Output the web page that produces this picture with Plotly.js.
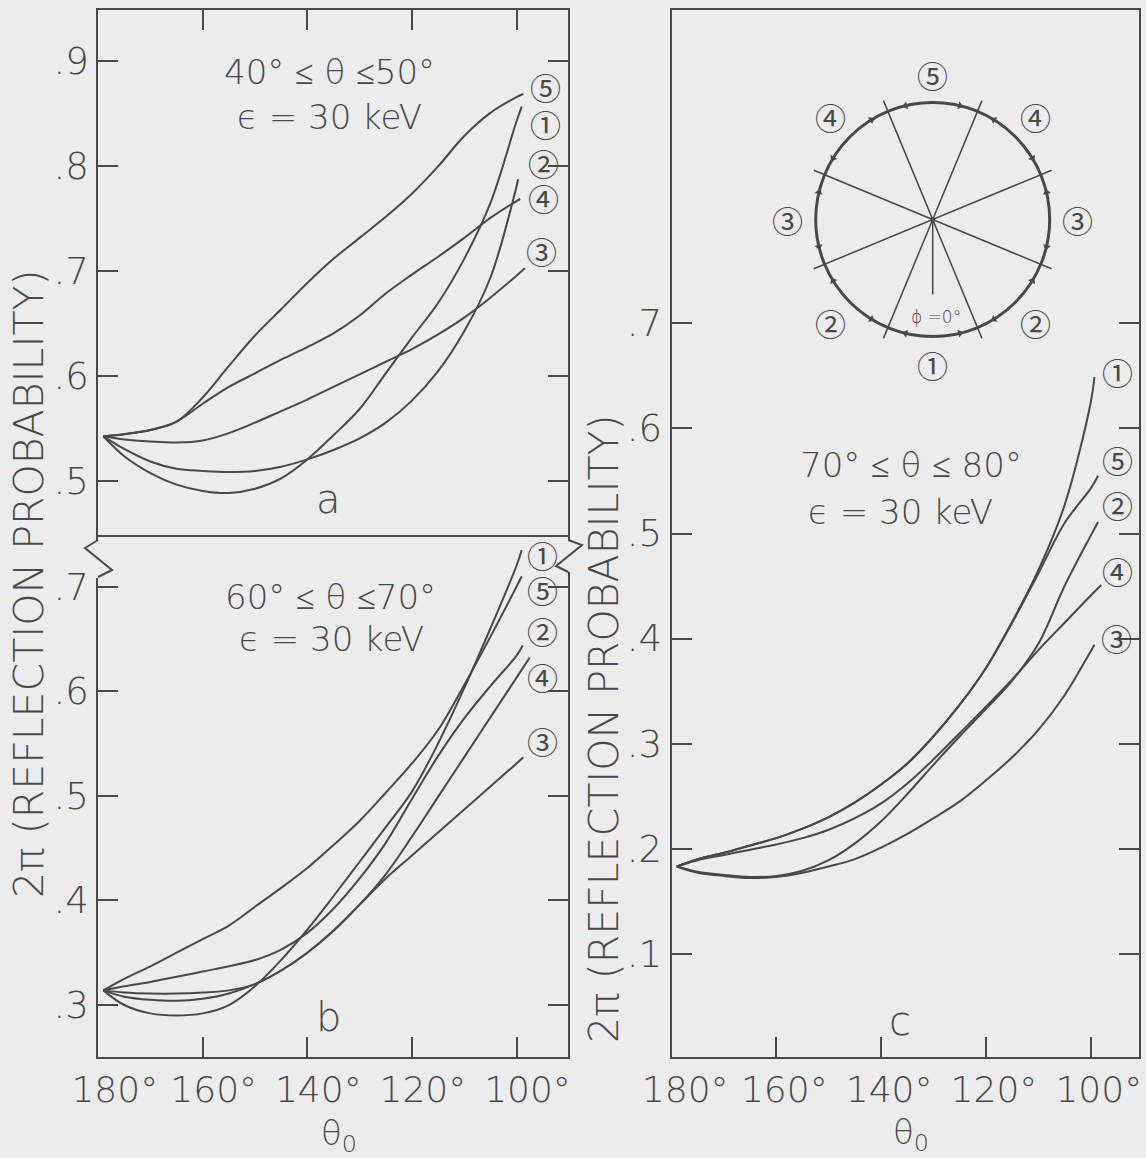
<!DOCTYPE html>
<html><head><meta charset="utf-8">
<script src="https://cdn.plot.ly/plotly-3.0.1.min.js"></script>
<style>html,body{margin:0;padding:0;background:#ececec;}#chart{width:1146px;height:1158px;}</style>
</head><body><div id="chart"></div>
<script>
// ---------------- DATA ----------------
const thetaGrid = [179,175,170,165,160,155,150,145,140,135,130,125,120,115,110,105,100];
const curveNames = ['①','②','③','④','⑤'];

// Panel a : 40° ≤ θ ≤ 50°
const a1 = [.543,.524,.508,.497,.491,.489,.493,.503,.521,.544,.569,.603,.637,.670,.712,.765,.843];
const a2 = [.543,.531,.519,.512,.510,.509,.510,.514,.521,.530,.541,.556,.577,.605,.643,.694,.781];
const a3 = [.543,.540,.538,.537,.539,.546,.556,.567,.578,.590,.602,.614,.626,.640,.656,.675,.696];
const a4 = [.543,.545,.549,.557,.574,.590,.603,.616,.628,.641,.658,.679,.697,.714,.732,.751,.767];
const a5 = [.543,.545,.549,.557,.580,.610,.639,.664,.689,.712,.732,.752,.774,.800,.829,.851,.866];
const aEndTheta = [99.0, 99.7, 98.4, 99.3, 98.7];
const aEndProb  = [.857, .788, .703, .769, .869];

// Panel b : 60° ≤ θ ≤ 70°
const b1 = [.314,.300,.292,.290,.292,.300,.318,.343,.372,.404,.437,.470,.504,.550,.603,.660,.720];
const b2 = [.314,.318,.322,.327,.332,.337,.343,.353,.369,.392,.421,.455,.497,.538,.574,.605,.634];
const b3 = [.314,.308,.305,.304,.306,.311,.320,.333,.350,.371,.396,.421,.443,.465,.487,.509,.531];
const b4 = [.314,.312,.311,.311,.312,.314,.320,.333,.350,.371,.396,.425,.461,.499,.537,.575,.613];
const b5 = [.314,.325,.337,.350,.363,.376,.394,.412,.431,.453,.476,.503,.531,.563,.606,.652,.700];
const bEndTheta = [99.0, 98.8, 98.7, 97.5, 99.0];
const bEndProb  = [.735, .644, .537, .632, .710];

// Panel c : 70° ≤ θ ≤ 80°
const c1 = [.183,.190,.196,.203,.210,.219,.230,.244,.261,.281,.307,.337,.372,.416,.465,.527,.625];
const c2 = [.183,.178,.175,.173,.174,.179,.189,.205,.226,.252,.280,.307,.333,.360,.395,.450,.498];
const c3 = [.183,.177,.174,.172,.173,.177,.183,.190,.201,.214,.229,.245,.265,.287,.313,.346,.388];
const c4 = [.183,.189,.194,.199,.204,.210,.218,.229,.243,.262,.285,.310,.335,.361,.389,.415,.441];
const c5 = [.183,.190,.196,.203,.210,.219,.230,.244,.261,.281,.307,.337,.372,.415,.462,.510,.543];
const cEndTheta = [99.3, 98.6, 99.3, 98.0, 98.6];
const cEndProb  = [.649, .511, .394, .451, .555];

// tick labels
const xTickVals = [180,160,140,120,100];
const xTickText = ['\u00a0180°','160°','140°','120°','100°'];
const aTickVals = [.5,.6,.7,.8,.9];
const bTickVals = [.3,.4,.5,.6,.7];
const cTickVals = [.1,.2,.3,.4,.5,.6,.7];

// inset diagram (azimuthal sectors, φ measured from the bottom)
const sectorBoundaries = [22.5, 67.5, 112.5, 157.5, 202.5, 247.5, 292.5, 337.5];
const sectorCenters = [0, 45, 90, 135, 180, 225, 270, 315];
const sectorLabels = ['①','②','③','④','⑤','④','③','②'];

// ---------------- STYLE ----------------
const W = 1146, H = 1158;
const BG = '#ececec', INK = '#484848';
const px = x => x / W, py = y => 1 - y / H;
const tickFont = {family: 'DejaVu Sans', size: 37, color: INK, weight: 200};
const xTickFont = {family: 'DejaVu Sans', size: 36, color: INK, weight: 200};
const txtFont  = {family: 'DejaVu Sans', size: 34, color: INK, weight: 200};
const circFont = {family: 'Noto Sans CJK JP', size: 31, color: INK, weight: 400};

const panels = [
  {ys: [a1,a2,a3,a4,a5], endT: aEndTheta, endP: aEndProb, xa: 'x', ya: 'y'},
  {ys: [b1,b2,b3,b4,b5], endT: bEndTheta, endP: bEndProb, xa: 'x2', ya: 'y2'},
  {ys: [c1,c2,c3,c4,c5], endT: cEndTheta, endP: cEndProb, xa: 'x3', ya: 'y3'}
];
const traces = [];
panels.forEach(p => {
  p.ys.forEach((vals, i) => {
    traces.push({
      x: thetaGrid.concat([p.endT[i]]), y: vals.concat([p.endP[i]]),
      xaxis: p.xa, yaxis: p.ya, mode: 'lines', name: curveNames[i],
      line: {color: INK, width: 2, shape: 'spline', smoothing: 1},
      hoverinfo: 'skip', showlegend: false
    });
  });
});

// inset geometry
const pos = (phi, r) => [r * Math.sin(phi * Math.PI / 180), -r * Math.cos(phi * Math.PI / 180)];
const shapes = [];
shapes.push({type: 'circle', xref: 'x4', yref: 'y4', x0: -1, x1: 1, y0: -1, y1: 1,
  line: {color: INK, width: 3}});
sectorBoundaries.slice(0, 4).forEach(b => {
  const p0 = pos(b, 1.1), p1 = pos(b + 180, 1.1);
  shapes.push({type: 'line', xref: 'x4', yref: 'y4', x0: p0[0], y0: p0[1], x1: p1[0], y1: p1[1],
    line: {color: INK, width: 1.5}});
});
const z = pos(0, 0.64);
shapes.push({type: 'line', xref: 'x4', yref: 'y4', x0: 0, y0: 0, x1: z[0], y1: z[1],
  line: {color: INK, width: 1.5}});
// arrowheads
const arrX = [], arrY = [], arrA = [];
sectorBoundaries.forEach(b => {
  [[b - 9, 1], [b + 9, -1]].forEach(([phi, s]) => {
    const q = pos(phi, 1); arrX.push(q[0]); arrY.push(q[1]);
    const r = phi * Math.PI / 180;
    arrA.push(Math.atan2(s * Math.cos(r), s * Math.sin(r)) * 180 / Math.PI);
  });
});
traces.push({x: arrX, y: arrY, xaxis: 'x4', yaxis: 'y4', mode: 'markers', hoverinfo: 'skip',
  marker: {symbol: 'triangle-up', size: 7, color: INK, angle: arrA}, showlegend: false});
traces.push({x: [0], y: [0], xaxis: 'x4', yaxis: 'y4', mode: 'markers', hoverinfo: 'skip',
  marker: {size: 5, color: INK}, showlegend: false});

// axis breaks (between panels a and b)
const pathPx = pts => pts.map((p, i) => (i ? 'L' : 'M') + px(p[0]).toFixed(5) + ',' + py(p[1]).toFixed(5)).join(' ');
shapes.push({type: 'rect', xref: 'paper', yref: 'paper', x0: px(93), x1: px(103), y0: py(578), y1: py(541),
  fillcolor: BG, line: {width: 0}, layer: 'above'});
shapes.push({type: 'rect', xref: 'paper', yref: 'paper', x0: px(563), x1: px(574), y0: py(572), y1: py(541),
  fillcolor: BG, line: {width: 0}, layer: 'above'});
shapes.push({type: 'path', xref: 'paper', yref: 'paper', layer: 'above',
  path: pathPx([[98.1,540],[85,548],[112,570],[98.1,577]]), line: {color: INK, width: 2}});
shapes.push({type: 'path', xref: 'paper', yref: 'paper', layer: 'above',
  path: pathPx([[568.3,540],[582,545],[556,566],[568.3,572]]), line: {color: INK, width: 2}});

// annotations
const ann = [];
const addText = (text, x, y, font, extra) => ann.push(Object.assign({text, x: px(x), y: py(y),
  xref: 'paper', yref: 'paper', showarrow: false, xanchor: 'center', yanchor: 'middle', font}, extra || {}));
addText('40° ≤ θ ≤50°', 329, 72, txtFont);
addText('ϵ = 30 keV', 329, 117, txtFont);
addText('60° ≤ θ ≤70°', 330, 597, txtFont);
addText('ϵ = 30 keV', 331, 639, txtFont);
addText('70° ≤ θ ≤ 80°', 911, 465, txtFont);
addText('ϵ = 30 keV', 900, 512, txtFont);
const letFont = {family: 'DejaVu Sans', size: 40, color: INK, weight: 200};
addText('a', 328, 499, letFont);
addText('b', 328, 1017, letFont);
addText('c', 900, 1021, letFont);
// curve labels
const aLab = [[545.7,124],[543,162],[541,251],[543,198],[545.7,86]];
const bLab = [[542,554],[542,630],[542,740],[542,676],[542,589]];
const cLab = [[1117,371],[1117,505],[1116,637],[1117,570],[1117,459]];
[aLab, bLab, cLab].forEach(L => L.forEach((p, i) => addText(curveNames[i], p[0], p[1], circFont)));
// inset labels
sectorCenters.forEach((phi, i) => {
  const q = pos(phi, 1.24);
  ann.push({text: sectorLabels[i], x: q[0], y: q[1], xref: 'x4', yref: 'y4', showarrow: false,
    xanchor: 'center', yanchor: 'middle', font: circFont});
});
ann.push({text: 'ϕ =0°', x: 0.03, y: -0.83, xref: 'x4', yref: 'y4', showarrow: false,
  xanchor: 'center', yanchor: 'middle', font: {family: 'DejaVu Sans', size: 17, color: INK, weight: 200}});
// axis titles
const yTitleFont = {family: 'DejaVu Sans', size: 41, color: INK, weight: 200};
addText('2π (REFLECTION PROBABILITY)', 29, 584, yTitleFont, {textangle: -90});
addText('2π (REFLECTION PROBABILITY)', 604, 729, yTitleFont, {textangle: -90});
const xTitleFont = {family: 'DejaVu Sans', size: 34, color: INK, weight: 200};
addText('θ<sub>0</sub>', 339, 1135, xTitleFont);
addText('θ<sub>0</sub>', 911, 1134, xTitleFont);

// axes
const base = {showgrid: false, zeroline: false, showline: true, linecolor: INK, linewidth: 2,
  ticks: 'inside', ticklen: 20, tickwidth: 2, tickcolor: INK, tickfont: tickFont, fixedrange: true};
const xDomL = [px(98.1), px(568.3)], xDomR = [px(671.5), px(1139)];
const lab = v => String(v).replace('0.', '.');
const layout = {
  width: W, height: H, margin: {l: 0, r: 0, t: 0, b: 0},
  paper_bgcolor: BG, plot_bgcolor: 'rgba(0,0,0,0)', showlegend: false,
  xaxis: Object.assign({}, base, {domain: xDomL, range: [180, 90.1], anchor: 'y', side: 'top',
    mirror: true, tickvals: [160,140,120,100], showticklabels: false}),
  yaxis: Object.assign({}, base, {domain: [py(535), py(10)], range: [0.449, 0.949], anchor: 'x',
    mirror: 'ticks', tickvals: aTickVals, ticktext: aTickVals.map(lab), ticklabelstandoff: 0}),
  xaxis2: Object.assign({}, base, {domain: xDomL, range: [180, 90.1], anchor: 'y2', mirror: false,
    tickvals: xTickVals, ticktext: xTickText, tickangle: 0, tickfont: xTickFont,
    ticklabelstandoff: 0, ticklabelshift: -11}),
  yaxis2: Object.assign({}, base, {domain: [py(1057), py(535)], range: [0.2503, 0.7494], anchor: 'x2',
    mirror: 'ticks', tickvals: bTickVals, ticktext: bTickVals.map(lab), ticklabelstandoff: 0}),
  xaxis3: Object.assign({}, base, {domain: xDomR, range: [180, 90.8], anchor: 'y3', mirror: true,
    tickvals: xTickVals, ticktext: xTickText, tickangle: 0, tickfont: xTickFont,
    ticklabelstandoff: 0, ticklabelshift: -8}),
  yaxis3: Object.assign({}, base, {domain: [py(1056.6), py(10.4)], range: [0.002, 0.998], anchor: 'x3',
    mirror: 'ticks', tickvals: cTickVals, ticktext: cTickVals.map(lab), ticklabelstandoff: 0}),
  xaxis4: {domain: [px(932.7 - 150), px(932.7 + 150)], range: [-1.282, 1.282], visible: false,
    anchor: 'y4', fixedrange: true},
  yaxis4: {domain: [py(219.5 + 150), py(219.5 - 150)], range: [-1.282, 1.282], visible: false,
    anchor: 'x4', fixedrange: true},
  shapes: shapes, annotations: ann
};
Plotly.newPlot('chart', traces, layout, {displayModeBar: false, staticPlot: true});
</script></body></html>
